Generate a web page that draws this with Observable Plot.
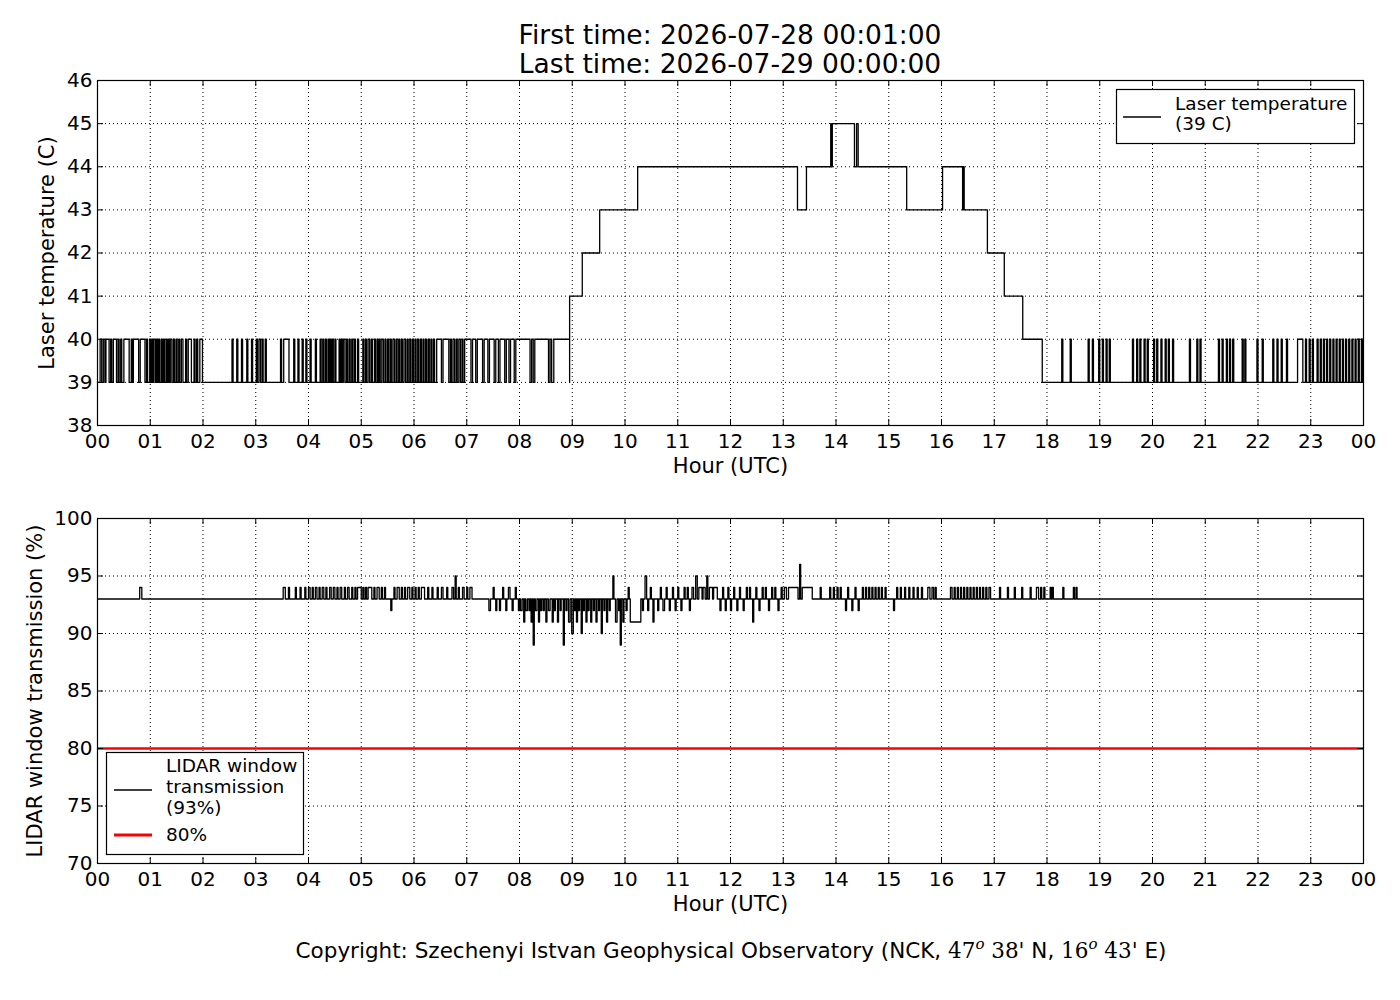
<!DOCTYPE html>
<html><head><meta charset="utf-8">
<script src="https://cdn.jsdelivr.net/npm/d3@7"></script>
<script src="https://cdn.jsdelivr.net/npm/@observablehq/plot@0.6"></script>
<style>
body{margin:0;background:#fff;}
#wrap{position:relative;width:1400px;height:1000px;font-family:"DejaVu Sans",sans-serif;color:#000;background:#fff;overflow:hidden;}
#title{position:absolute;left:0;top:20px;width:1460px;text-align:center;font-size:26.5px;line-height:29px;}
.p{position:absolute;left:0;}
#overlay{position:absolute;left:0;top:0;}
</style>
</head><body>
<div id="wrap">
  <div id="title">First time: 2026-07-28 00:01:00<br>Last time: 2026-07-29 00:00:00</div>
  <div id="p1" class="p" style="top:0px"></div>
  <div id="p2" class="p" style="top:440px"></div>
  <svg id="overlay" width="1400" height="1000"></svg>
</div>
<script>
// ---------- ticks ----------
const hourTicks = [0,1,2,3,4,5,6,7,8,9,10,11,12,13,14,15,16,17,18,19,20,21,22,23,24];
const hourLabels = ["00","01","02","03","04","05","06","07","08","09","10","11","12","13","14","15","16","17","18","19","20","21","22","23","00"];
const tempTicks = [38,39,40,41,42,43,44,45,46];
const transTicks = [70,75,80,85,90,95,100];

// ---------- laser temperature (C) ----------
const tempBase = 39;
const tempPulseValue = 40;
// night-time toggles 39 -> 40 (start hour, end hour)
const tempPulsesMorning = [
 [0.05,0.08],[0.11,0.14],[0.16,0.22],[0.25,0.27],[0.30,0.36],[0.39,0.41],[0.44,0.46],[0.50,0.60],[0.64,0.66],[0.68,0.78],
 [0.81,0.90],[0.93,0.95],[0.99,1.01],[1.03,1.05],[1.07,1.10],[1.12,1.14],[1.16,1.18],[1.21,1.23],[1.25,1.27],[1.30,1.32],
 [1.34,1.36],[1.38,1.41],[1.44,1.46],[1.49,1.51],[1.54,1.56],[1.59,1.62],[1.67,1.69],[1.72,1.78],[1.83,1.85],[1.88,1.90],[1.94,1.99],
 [2.55,2.57],[2.64,2.66],[2.73,2.75],[2.83,2.85],[2.92,2.94],
 [3.01,3.03],[3.06,3.09],[3.12,3.14],[3.18,3.20],[3.47,3.49],[3.53,3.63],[3.72,3.74],[3.80,3.82],[3.88,3.90],[3.95,3.97],
 [4.03,4.05],[4.13,4.15],[4.22,4.24],[4.27,4.29],[4.32,4.34],[4.37,4.39],[4.41,4.43],[4.45,4.47],[4.50,4.52],[4.58,4.60],
 [4.62,4.64],[4.66,4.69],[4.72,4.74],[4.77,4.79],[4.82,4.84],[4.87,4.89],[4.93,4.95],
 [5.03,5.05],[5.08,5.10],[5.13,5.16],[5.19,5.21],[5.25,5.27],[5.30,5.32],[5.34,5.36],[5.39,5.42],[5.45,5.47],[5.50,5.52],
 [5.55,5.57],[5.60,5.63],[5.66,5.68],[5.71,5.73],[5.76,5.78],[5.81,5.84],[5.87,5.89],[5.92,5.94],[5.97,5.99],
 [6.02,6.04],[6.07,6.09],[6.12,6.14],[6.17,6.19],[6.22,6.24],[6.27,6.29],[6.32,6.34],[6.37,6.39],[6.43,6.52],[6.55,6.66],
 [6.69,6.71],[6.74,6.77],[6.80,6.82],[6.85,6.88],[6.91,6.93],[6.96,7.08],
 [7.11,7.17],[7.20,7.30],[7.33,7.40],[7.43,7.52],[7.55,7.60],[7.63,7.72],[7.75,7.80],[7.83,7.90],[7.93,8.20],[8.23,8.26],
 [8.29,8.55],[8.58,8.61],[8.65,8.95]
];
// daytime warming steps (hour at which the value changes, new value)
const warmHours  = [8.95,9.19,9.52,10.24,13.27,13.44,13.90,13.91,13.93,14.35,14.39,14.42,15.34,16.02,16.40,16.41,16.43,16.87,17.19,17.54,17.91];
const warmValues = [41,  42,  43,  44,   43,   44,   45,   44,   45,   44,   45,   44,   43,   44,   43,   44,   43,   42,   41,   40,   39];
const tempPulsesEvening = [
 [18.28,18.30],[18.44,18.46],[18.78,18.80],[18.86,18.88],[18.98,19.00],[19.05,19.07],[19.12,19.14],[19.18,19.20],
 [19.62,19.64],[19.70,19.72],[19.76,19.78],[19.84,19.86],[19.90,19.92],[20.02,20.04],[20.08,20.10],[20.16,20.18],
 [20.24,20.26],[20.30,20.32],[20.38,20.40],[20.70,20.72],[20.84,20.86],[20.90,20.92],[21.25,21.27],[21.32,21.34],
 [21.40,21.42],[21.46,21.48],[21.52,21.54],[21.70,21.72],[21.75,21.77],[21.98,22.00],[22.08,22.10],[22.28,22.30],
 [22.36,22.38],[22.44,22.46],[22.54,22.56],[22.75,22.85],[22.90,22.92],[22.97,22.99],[23.03,23.05],[23.12,23.14],
 [23.18,23.20],[23.24,23.26],[23.30,23.32],[23.36,23.38],[23.42,23.44],[23.48,23.50],[23.54,23.56],[23.60,23.62],
 [23.66,23.68],[23.72,23.74],[23.78,23.80],[23.84,23.86],[23.90,23.92],[23.96,23.98]
];

// ---------- LIDAR window transmission (%) ----------
const transBase = 93;
const limitValue = 80;
// deviations from the 93 % baseline: [start hour, end hour, value]
const transPulses = [
 [0.80,0.84,94],[3.52,3.56,94],[3.62,3.64,94],[3.75,3.77,94],[3.84,3.86,94],[3.93,3.95,94],[4.00,4.03,94],[4.07,4.09,94],
 [4.13,4.16,94],[4.20,4.22,94],[4.26,4.29,94],[4.33,4.35,94],[4.40,4.43,94],[4.47,4.50,94],[4.54,4.56,94],[4.60,4.63,94],
 [4.68,4.70,94],[4.74,4.77,94],[4.82,4.84,94],[4.88,4.90,94],[4.93,5.00,94],[5.03,5.05,94],[5.08,5.10,94],[5.13,5.20,94],
 [5.24,5.26,94],[5.30,5.34,94],[5.38,5.40,94],[5.44,5.46,94],[5.56,5.58,92],[5.62,5.64,94],[5.68,5.72,94],[5.76,5.78,94],
 [5.82,5.84,94],[5.88,5.92,94],[5.96,5.98,94],[6.02,6.04,94],[6.08,6.10,94],[6.14,6.20,94],[6.26,6.28,94],[6.34,6.36,94],
 [6.44,6.46,94],[6.52,6.55,94],[6.62,6.64,94],[6.72,6.75,94],[6.78,6.80,95],[6.84,6.86,94],[6.92,6.95,94],[7.00,7.02,94],
 [7.06,7.10,94],[7.42,7.45,92],[7.50,7.52,94],[7.55,7.57,92],[7.62,7.64,92],[7.68,7.70,94],[7.74,7.76,92],[7.79,7.82,94],
 [7.86,7.88,92],[7.92,7.94,94],[7.98,8.00,92],
 [8.02,8.05,92],[8.08,8.10,91],[8.12,8.15,92],[8.18,8.20,92],[8.22,8.24,91],[8.26,8.28,89],[8.30,8.33,92],[8.36,8.38,91],
 [8.40,8.42,92],[8.45,8.47,92],[8.50,8.52,91],[8.55,8.58,92],[8.62,8.64,91],[8.66,8.68,92],[8.72,8.74,91],[8.77,8.79,92],
 [8.83,8.85,89],[8.88,8.90,92],[8.93,8.96,91],[8.99,9.02,90],[9.04,9.06,92],[9.08,9.10,91],[9.12,9.14,92],[9.17,9.19,90],
 [9.21,9.23,92],[9.26,9.28,91],[9.30,9.32,92],[9.35,9.37,91],[9.40,9.42,92],[9.45,9.47,91],[9.50,9.52,92],[9.55,9.57,90],
 [9.60,9.62,92],[9.65,9.67,91],[9.70,9.72,92],[9.77,9.79,95],[9.82,9.85,91],[9.88,9.90,92],[9.91,9.93,89],[9.96,9.98,91],
 [10.02,10.04,92],[10.06,10.08,94],[10.10,10.30,91],[10.33,10.35,92],[10.38,10.41,95],[10.43,10.45,92],[10.48,10.50,94],
 [10.53,10.55,91],[10.62,10.64,92],[10.67,10.69,94],[10.72,10.75,92],[10.78,10.80,94],[10.84,10.86,92],[10.90,10.92,94],
 [10.95,10.97,92],[11.00,11.02,94],[11.06,11.08,92],[11.12,11.14,94],[11.18,11.20,94],[11.22,11.24,92],[11.27,11.30,94],
 [11.34,11.37,95],[11.40,11.46,94],[11.48,11.52,94],[11.55,11.57,95],[11.60,11.66,94],[11.68,11.75,94],[11.80,11.82,92],
 [11.85,11.87,94],[11.90,11.92,92],[11.95,11.97,94],[12.00,12.02,92],[12.06,12.08,94],[12.12,12.14,92],[12.17,12.19,94],
 [12.24,12.26,92],[12.30,12.32,94],[12.36,12.38,94],[12.42,12.44,91],[12.48,12.50,94],[12.54,12.56,92],[12.60,12.62,94],
 [12.66,12.68,94],[12.72,12.74,92],[12.78,12.80,94],[12.84,12.86,94],[12.90,12.92,92],[12.96,12.98,94],[13.02,13.06,94],
 [13.10,13.28,94],[13.31,13.33,96],[13.36,13.55,94],[13.70,13.72,94],[13.88,13.90,94],[13.95,13.97,94],[14.02,14.04,94],
 [14.08,14.10,94],[14.18,14.20,92],[14.22,14.24,94],[14.30,14.32,92],[14.36,14.38,94],[14.42,14.44,92],[14.50,14.52,94],
 [14.56,14.58,94],[14.62,14.64,94],[14.68,14.70,94],[14.74,14.76,94],[14.80,14.82,94],[14.86,14.88,94],[14.93,14.95,94],
 [15.09,15.11,92],[15.15,15.17,94],[15.22,15.24,94],[15.30,15.32,94],[15.38,15.40,94],[15.46,15.48,94],[15.54,15.56,94],
 [15.62,15.64,94],[15.74,15.78,94],[15.82,15.85,94],[15.88,15.90,94],[16.17,16.20,94],[16.24,16.26,94],[16.30,16.32,94],
 [16.36,16.38,94],[16.42,16.44,94],[16.48,16.50,94],[16.54,16.56,94],[16.60,16.62,94],[16.66,16.68,94],[16.72,16.74,94],
 [16.78,16.80,94],[16.84,16.86,94],[16.90,16.93,94],[17.10,17.12,94],[17.25,17.27,94],[17.38,17.40,94],[17.52,17.54,94],
 [17.68,17.70,94],[17.80,17.84,94],[17.88,17.90,94],[17.94,17.96,94],[18.06,18.08,94],[18.10,18.12,94],[18.30,18.32,94],
 [18.50,18.52,94],[18.55,18.57,94]
];

// ---------- build step tables ----------
const tempSeries = [{t: 0, v: tempBase}];
for (const [s, e] of tempPulsesMorning) { tempSeries.push({t: s, v: tempPulseValue}, {t: e, v: tempBase}); }
warmHours.forEach((h, i) => tempSeries.push({t: h, v: warmValues[i]}));
for (const [s, e] of tempPulsesEvening) { tempSeries.push({t: s, v: tempPulseValue}, {t: e, v: tempBase}); }
tempSeries.push({t: 24, v: tempBase});

const transSeries = [{t: 0, v: transBase}];
for (const [s, e, v] of transPulses) { transSeries.push({t: s, v: v}, {t: e, v: transBase}); }
transSeries.push({t: 24, v: transBase});

const fmtHour = d => hourLabels[hourTicks.indexOf(d)];
const FONT = "DejaVu Sans";

function panel({yDomain, yTicks, series, ylabel, ylabelDx, marginTop, extra}) {
  const marginBottom = 60, height = marginTop + 345 + marginBottom;
  const innerW = 1400 - 97 - 37, innerH = 345;
  return Plot.plot({
    width: 1400, height,
    marginLeft: 97, marginRight: 37, marginTop, marginBottom,
    style: {fontFamily: FONT, fontSize: "20px", background: "transparent", color: "black", overflow: "visible"},
    x: {domain: [0, 24], label: null},
    y: {domain: yDomain, label: null},
    marks: [
      Plot.gridX(hourTicks, {stroke: "black", strokeOpacity: 1, strokeWidth: 1, strokeDasharray: "1,3"}),
      Plot.gridY(yTicks, {stroke: "black", strokeOpacity: 1, strokeWidth: 1, strokeDasharray: "1,3"}),
      ...(extra || []),
      Plot.line(series, {x: "t", y: "v", curve: "step-after", stroke: "black", strokeWidth: 1.3}),
      Plot.frame({stroke: "black", strokeWidth: 1.2}),
      Plot.tickX(hourTicks, {x: d => d, stroke: "black", insetTop: innerH - 6}),
      Plot.tickX(hourTicks, {x: d => d, stroke: "black", insetBottom: innerH - 6}),
      Plot.tickY(yTicks, {y: d => d, stroke: "black", insetRight: innerW - 6}),
      Plot.tickY(yTicks, {y: d => d, stroke: "black", insetLeft: innerW - 6}),
      Plot.axisX(hourTicks, {tickSize: 0, tickPadding: 8, tickFormat: fmtHour, fontSize: 20, label: null}),
      Plot.axisY(yTicks, {tickSize: 0, tickPadding: 5, fontSize: 20, label: null}),
      Plot.text(["Hour (UTC)"], {frameAnchor: "bottom", lineAnchor: "middle", textAnchor: "middle", dy: 41, fontSize: 21, fill: "black"}),
      Plot.text([ylabel], {frameAnchor: "left", textAnchor: "middle", lineAnchor: "middle", rotate: -90, dx: ylabelDx, fontSize: 21, fill: "black"})
    ]
  });
}

document.getElementById("p1").appendChild(panel({
  yDomain: [38, 46], yTicks: tempTicks, series: tempSeries,
  ylabel: "Laser temperature (C)", ylabelDx: -50, marginTop: 80
}));
document.getElementById("p2").appendChild(panel({
  yDomain: [70, 100], yTicks: transTicks, series: transSeries,
  ylabel: "LIDAR window transmission (%)", ylabelDx: -62, marginTop: 78,
  extra: [Plot.ruleY([limitValue], {stroke: "#ff0000", strokeWidth: 2.5})]
}));

// ---------- legends & footer (overlay) ----------
const ns = "http://www.w3.org/2000/svg";
const ov = document.getElementById("overlay");
function el(tag, attrs, text) {
  const e = document.createElementNS(ns, tag);
  for (const k in attrs) e.setAttribute(k, attrs[k]);
  if (text != null) e.textContent = text;
  ov.appendChild(e); return e;
}
// top legend
el("rect", {x: 1116.5, y: 89.5, width: 238, height: 54, fill: "white", stroke: "black", "stroke-width": 1.2});
el("line", {x1: 1123, x2: 1161, y1: 117, y2: 117, stroke: "black", "stroke-width": 1.3});
el("text", {x: 1175, y: 105, "font-family": FONT, "font-size": 18.5, "dominant-baseline": "middle"}, "Laser temperature");
el("text", {x: 1175, y: 125, "font-family": FONT, "font-size": 18.5, "dominant-baseline": "middle"}, "(39 C)");
// bottom legend
el("rect", {x: 106.5, y: 752.5, width: 197, height: 102, fill: "white", stroke: "black", "stroke-width": 1.2});
el("line", {x1: 114, x2: 152, y1: 790, y2: 790, stroke: "black", "stroke-width": 1.3});
el("text", {x: 166, y: 767, "font-family": FONT, "font-size": 18.5, "dominant-baseline": "middle"}, "LIDAR window");
el("text", {x: 166, y: 788, "font-family": FONT, "font-size": 18.5, "dominant-baseline": "middle"}, "transmission");
el("text", {x: 166, y: 809, "font-family": FONT, "font-size": 18.5, "dominant-baseline": "middle"}, "(93%)");
el("line", {x1: 114, x2: 152, y1: 835, y2: 835, stroke: "#ff0000", "stroke-width": 3});
el("text", {x: 166, y: 836, "font-family": FONT, "font-size": 18.5, "dominant-baseline": "middle"}, "80%");

// footer
const foot = el("text", {x: 731, y: 958, "font-family": FONT, "font-size": 21.5, "text-anchor": "middle"});
foot.setAttribute("xml:space", "preserve");
const parts = [
  ["Copyright: Szechenyi Istvan Geophysical Observatory (NCK, ", {}],
  ["47", {"font-family": "DejaVu Serif"}],
  ["o", {"font-family": "DejaVu Serif", "font-style": "italic", "font-size": 15, dy: -9}],
  ["  38'", {"font-family": "DejaVu Serif", dy: 9}],
  [" N, ", {}],
  ["16", {"font-family": "DejaVu Serif"}],
  ["o", {"font-family": "DejaVu Serif", "font-style": "italic", "font-size": 15, dy: -9}],
  ["  43'", {"font-family": "DejaVu Serif", dy: 9}],
  [" E)", {}]
];
for (const [txt, a] of parts) {
  const t = document.createElementNS(ns, "tspan");
  for (const k in a) t.setAttribute(k, a[k]);
  t.textContent = txt; foot.appendChild(t);
}
</script>
</body></html>
